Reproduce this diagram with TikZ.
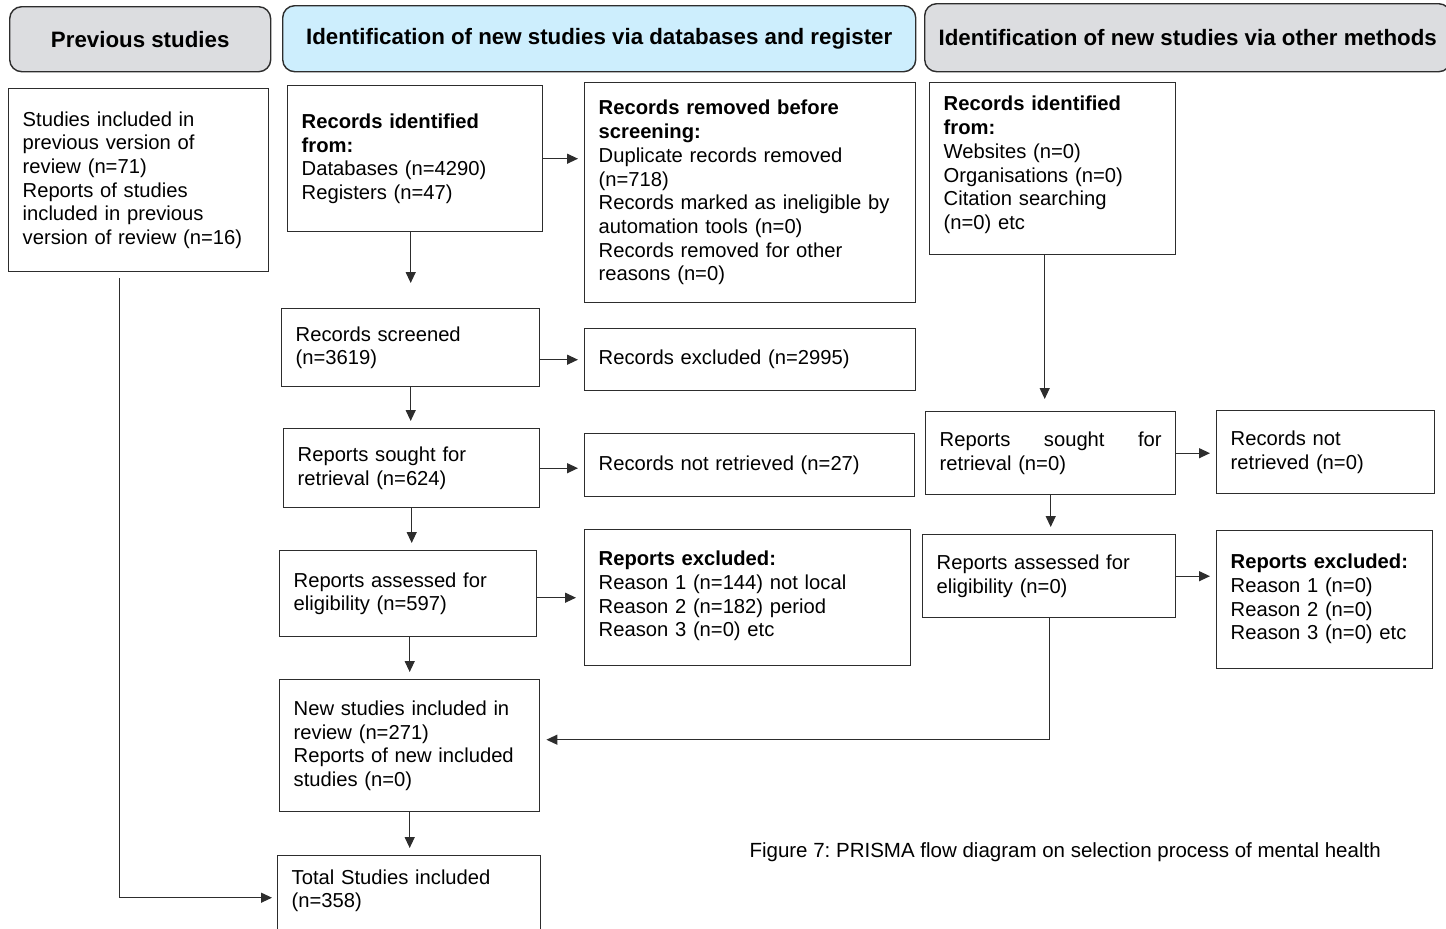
\documentclass[tikz,border=0pt]{standalone}
\usepackage{fontspec}
\setmainfont{Liberation Sans}
\usetikzlibrary{arrows.meta}
\definecolor{headgray}{RGB}{220,221,224}
\definecolor{headblue}{RGB}{205,238,253}
\definecolor{linegray}{RGB}{45,45,45}

\begin{document}
\frenchspacing
\begin{tikzpicture}[x=1pt, y=-1pt,
    font=\fontsize{20.2}{23.7}\selectfont,
    head/.style={draw=linegray, line width=1.4pt, rounded corners=12pt, anchor=north west, font=\fontsize{22.3}{26}\selectfont\bfseries},
    box/.style={draw=linegray, line width=1.4pt, anchor=north west, inner xsep=14pt, inner ysep=4pt, align=left},
    arr/.style={draw=linegray, line width=1.2pt, -{Triangle[length=11pt,width=10pt]}, shorten >=7pt}]
    \useasboundingbox (0,0) rectangle (1446,929);
    % headers
    \node[head, fill=headgray, minimum width=261pt, minimum height=65pt] (hprev) at (9,6) {Previous studies};
    \node[head, fill=headblue, minimum width=633pt, minimum height=66pt] (hdb) at (282,5) {Identification of new studies via databases and register};
    \node[head, fill=headgray, minimum width=526pt, minimum height=68pt] (hother) at (924,3) {Identification of new studies via other methods};
    % previous studies
    \node[box, text width=232pt, minimum height=183pt] (prev) at (8,88) {Studies included in\\previous version of\\review (n=71)\\Reports of studies\\included in previous\\version of review (n=16)};
    % databases and registers
    \node[box, text width=227pt, minimum height=146pt] (ident) at (287,85) {\textbf{Records identified}\\\textbf{from:}\\Databases (n=4290)\\Registers (n=47)};
    \node[box, text width=303pt, minimum height=220pt] (removed) at (584,82) {\textbf{Records removed before}\\\textbf{screening:}\\Duplicate records removed\\(n=718)\\Records marked as ineligible by\\automation tools (n=0)\\Records removed for other\\reasons (n=0)};
    \node[box, text width=230pt, minimum height=78pt] (screened) at (281,308) {Records screened\\(n=3619)};
    \node[box, text width=303pt, minimum height=62pt] (excluded) at (584,328) {Records excluded (n=2995)};
    \node[box, text width=228pt, minimum height=79pt] (sought) at (283,428) {Reports sought for\\retrieval (n=624)};
    \node[box, text width=302pt, minimum height=63pt] (notret) at (584,433) {Records not retrieved (n=27)};
    \node[box, text width=229pt, minimum height=86pt] (assessed) at (279,550) {Reports assessed for\\eligibility (n=597)};
    \node[box, text width=298pt, minimum height=136pt] (repexcl) at (584,529) {\textbf{Reports excluded:}\\Reason 1 (n=144) not local\\Reason 2 (n=182) period\\Reason 3 (n=0) etc\\[-16pt]\mbox{}};
    \node[box, text width=232pt, minimum height=132pt] (newinc) at (279,679) {New studies included in\\review (n=271)\\Reports of new included\\studies (n=0)};
    \node[box, text width=235pt, minimum height=84pt] (total) at (277,855) {Total Studies included\\(n=358)\\[-5.7pt]\mbox{}};
    % other methods
    \node[box, text width=218pt, minimum height=172pt] (oident) at (929,82) {\textbf{Records identified}\\\textbf{from:}\\Websites (n=0)\\Organisations (n=0)\\Citation searching\\(n=0) etc\\[-12pt]\mbox{}};
    \node[box, text width=222pt, minimum height=83pt] (osought) at (925,411) {\hbox to \linewidth{Reports\hfill sought\hfill for}\\retrieval (n=0)};
    \node[box, text width=190pt, minimum height=83pt] (onotret) at (1216,410) {Records not\\retrieved (n=0)};
    \node[box, text width=225pt, minimum height=83pt] (oassessed) at (922,534) {Reports assessed for\\eligibility (n=0)};
    \node[box, text width=188pt, minimum height=138pt] (orepexcl) at (1216,530) {\textbf{Reports excluded:}\\Reason 1 (n=0)\\Reason 2 (n=0)\\Reason 3 (n=0) etc\\[-18pt]\mbox{}};
    \node[anchor=west, font=\fontsize{20.5}{24}\selectfont] (caption) at (746,852) {Figure 7: PRISMA flow diagram on selection process of mental health};
    % arrows
    \draw[arr, shorten >=25pt] (screened.north |- ident.south) -- (screened.north);
    \draw[arr, shorten >=6pt] (ident.east) -- (ident.east -| removed.west);
    \draw[arr, shorten >=6pt] (excluded.west -| screened.east) -- (excluded.west);
    \draw[arr] (screened.south) -- (screened.south |- sought.north);
    \draw[arr, shorten >=6pt] (sought.east) -- (sought.east -| notret.west);
    \draw[arr] (sought.south) -- (sought.south |- assessed.north);
    \draw[arr, shorten >=8pt] (repexcl.west -| assessed.east) -- (repexcl.west);
    \draw[arr] (newinc.north |- assessed.south) -- (newinc.north);
    \draw[arr] (newinc.south) -- (newinc.south |- total.north);
    \draw[arr, shorten <=6pt, shorten >=5pt] ([xshift=-19pt]prev.south) |- (total.west);
    \draw[arr, shorten >=12pt] ([xshift=-8pt]oident.south) -- ([xshift=-6pt]osought.north);
    \draw[arr, shorten >=6pt] (osought.east) -- (osought.east -| onotret.west);
    \draw[arr] (osought.south) -- (osought.south |- oassessed.north);
    \draw[arr, shorten >=6pt] (oassessed.east) -- (oassessed.east -| orepexcl.west);
    \draw[arr, shorten >=6pt] (oassessed.south) |- ([yshift=6pt]newinc.east);
\end{tikzpicture}
\end{document}
